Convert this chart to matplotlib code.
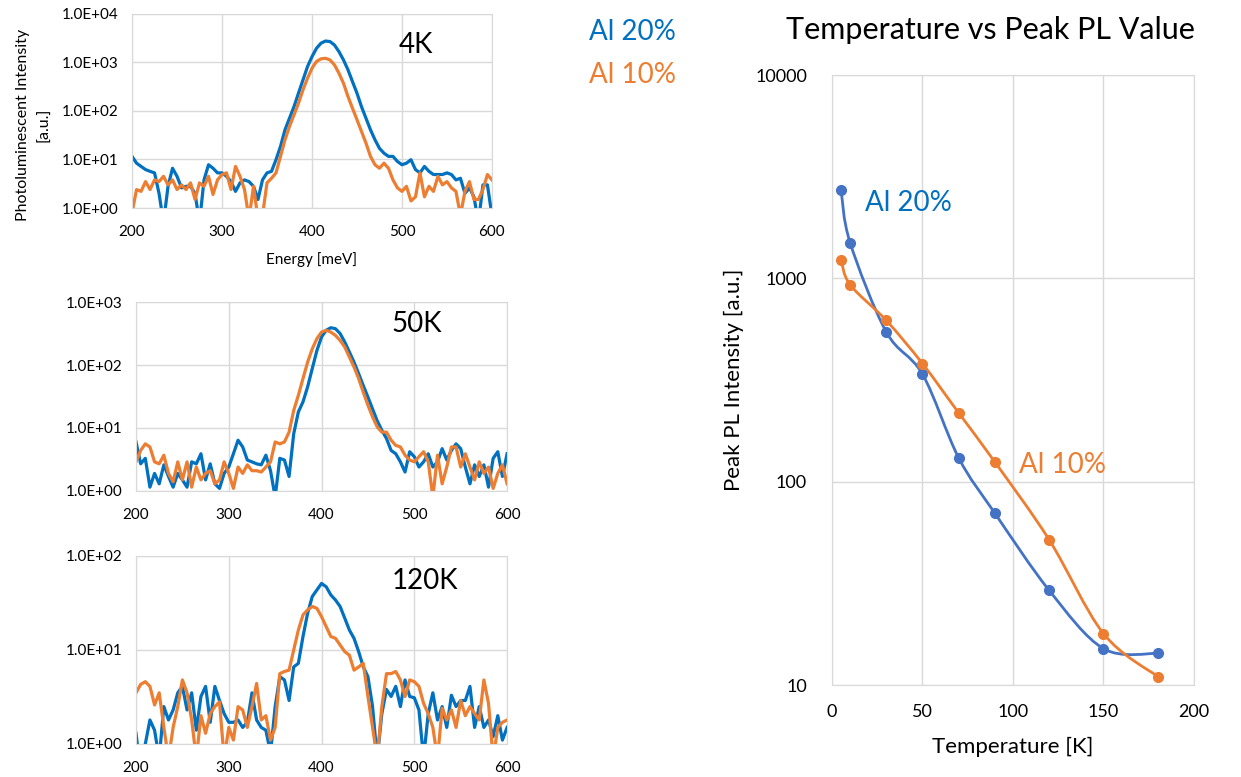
import numpy as np
import matplotlib
matplotlib.use("Agg")
import matplotlib.pyplot as plt
from matplotlib.path import Path
from matplotlib.patches import PathPatch
from matplotlib.ticker import FuncFormatter, NullLocator, FixedLocator

plt.rcParams['font.family'] = ['Lato', 'DejaVu Sans']

BLUE = '#0070C0'
ORANGE = '#ED7D31'
BLUE2 = '#4472C4'
GRID = '#D9D9D9'

# PL spectra, energy in meV (5 meV steps), intensity in a.u.
energy = np.arange(200, 605, 5)

b4 = [11.6, 8.4, 7.2, 6.2, 5.7, 5.3, 2.0, 0.5, 2.8, 6.6,
      4.5, 2.6, 2.8, 2.8, 2.0, 0.5, 3.8, 7.8, 6.6, 5.3,
      5.3, 4.5, 3.5, 2.2, 3.3, 3.8, 3.5, 2.8, 1.5, 3.8,
      5.3, 5.7, 9.9, 18.6, 41, 71, 123, 233, 438, 820,
      1318, 1960, 2500, 2770, 2700, 2290, 1670, 1130, 707, 404,
      233, 123, 71, 41, 25.5, 17, 13.5, 11.6, 11.6, 9.1,
      7.8, 8.4, 9.9, 6.2, 5.3, 7.2, 5.7, 4.9, 4.9, 4.9,
      5.3, 4.9, 3.8, 4.1, 2.0, 2.6, 1.7, 0.5, 3.0, 3.0,
      0.7]
o4 = [0.8, 2.4, 2.2, 3.5, 2.4, 3.8, 3.5, 4.5, 3.0, 3.8,
      2.4, 3.0, 2.4, 3.3, 1.5, 3.3, 2.8, 4.5, 1.9, 3.8,
      4.9, 5.3, 2.4, 7.2, 4.5, 2.4, 0.6, 2.8, 0.6, 0.7,
      3.3, 4.1, 5.3, 11.6, 25.5, 48, 83, 145, 273, 472,
      760, 1050, 1190, 1220, 1130, 890, 600, 373, 199, 114,
      66, 38, 21.8, 11.6, 7.8, 6.6, 8.4, 6.6, 3.8, 2.6,
      2.2, 2.8, 1.4, 1.7, 5.3, 1.7, 2.8, 2.2, 4.5, 3.0,
      3.5, 2.6, 2.2, 0.7, 2.2, 3.5, 1.5, 1.5, 2.4, 4.9,
      3.8]
b50 = [6.0, 2.7, 3.3, 1.15, 1.9, 1.3, 2.6, 1.7, 1.15, 1.9,
       1.5, 1.15, 2.9, 2.7, 3.9, 1.5, 2.7, 1.3, 1.1, 1.9,
       2.4, 3.9, 6.4, 5.0, 3.1, 2.9, 2.7, 2.6, 3.7, 2.1,
       0.8, 3.3, 3.1, 1.7, 8.1, 18, 26, 45, 88, 170,
       279, 356, 391, 377, 316, 232, 161, 111, 73, 47,
       31, 20, 13, 9.2, 6.8, 4.4, 3.9, 2.9, 2.0, 4.2,
       3.5, 2.4, 2.9, 3.9, 2.4, 2.9, 4.7, 3.1, 4.4, 5.6,
       4.7, 2.4, 1.3, 2.6, 1.7, 2.6, 1.15, 3.3, 4.2, 1.7,
       3.9]
o50 = [2.9, 4.4, 5.6, 5.0, 2.9, 2.7, 3.7, 1.9, 1.4, 2.9,
       1.5, 2.9, 1.15, 2.4, 1.5, 1.9, 2.1, 1.3, 1.5, 2.9,
       1.9, 1.1, 2.4, 1.9, 2.6, 2.1, 2.1, 2.0, 2.4, 2.9,
       6.0, 5.6, 6.0, 8.6, 19, 33, 61, 111, 181, 262,
       333, 356, 333, 295, 246, 193, 134, 93, 61, 37,
       23, 15, 10.4, 8.6, 8.6, 6.4, 5.3, 5.0, 3.7, 3.1,
       2.9, 3.5, 4.2, 2.9, 0.8, 3.7, 1.3, 2.4, 5.0, 5.0,
       2.4, 3.9, 2.4, 1.5, 2.9, 1.9, 2.4, 1.1, 1.9, 2.6,
       1.3]
b120 = [1.3, 0.5, 1.0, 1.8, 1.4, 0.7, 2.5, 1.8, 2.3, 3.5,
        4.1, 2.3, 3.5, 1.4, 3.2, 4.1, 1.7, 4.1, 2.9, 2.1,
        1.7, 1.7, 1.8, 1.5, 1.7, 3.5, 1.8, 1.5, 1.4, 0.8,
        2.5, 5.2, 4.8, 2.9, 6.6, 7.2, 13.9, 24.6, 37, 43.5,
        51, 47, 38.5, 34, 29, 21.8, 16.3, 13.3, 9.6, 6.6,
        5.2, 2.5, 0.7, 2.1, 3.8, 3.2, 4.1, 2.5, 4.8, 3.2,
        3.1, 2.3, 0.7, 2.1, 3.5, 1.8, 2.5, 1.5, 3.3, 2.5,
        2.9, 2.9, 4.1, 1.5, 2.5, 1.5, 1.8, 1.2, 2.0, 1.1,
        1.5]
o120 = [3.5, 4.3, 4.6, 4.1, 2.6, 3.5, 1.5, 0.7, 1.5, 2.5,
        4.8, 3.5, 1.8, 0.7, 2.0, 1.3, 2.1, 2.5, 2.8, 0.7,
        1.5, 1.1, 2.5, 2.3, 1.5, 2.5, 4.4, 1.8, 2.0, 1.1,
        1.5, 5.6, 5.9, 6.1, 10, 16.3, 23.6, 26.7, 29, 27.7,
        22.6, 17.7, 13.9, 13.3, 11.3, 9.6, 8.8, 6.1, 6.6, 7.2,
        3.2, 1.5, 0.7, 2.5, 5.6, 5.6, 5.9, 4.8, 3.2, 4.8,
        4.6, 4.1, 2.7, 2.1, 1.5, 0.7, 2.4, 1.8, 2.3, 1.5,
        2.9, 2.0, 2.5, 2.1, 1.8, 4.8, 2.7, 0.7, 1.5, 1.7,
        1.8]

# peak PL vs temperature
temps = [5, 10, 30, 50, 70, 90, 120, 150, 180]
peak_al20 = [2735, 1500, 545, 338, 131, 70, 29.2, 15.1, 14.3]
peak_al10 = [1236, 931, 621, 381, 218, 125, 51.8, 17.9, 11.0]

fig = plt.figure(figsize=(12.41, 7.77), dpi=100)

sci = FuncFormatter(lambda v, p: f"{v:.1E}")


def style_spectrum(ax, top):
    ax.set_xlim(200, 600)
    ax.set_yscale('log')
    ax.set_ylim(1, top)
    ax.yaxis.set_minor_locator(NullLocator())
    ax.yaxis.set_major_formatter(sci)
    ax.set_xticks([200, 300, 400, 500, 600])
    ax.grid(True, color=GRID, lw=1)
    ax.set_axisbelow(True)
    for s in ax.spines.values():
        s.set_color(GRID)
    ax.tick_params(length=0, labelsize=11)
    ax.tick_params(axis='x', pad=12)
    ax.tick_params(axis='y', pad=10)


panels = [
    ([0.1064, 0.7323, 0.290, 0.2497], b4, o4, 1e4, '4K', (0.79, 0.84)),
    ([0.1096, 0.3681, 0.299, 0.2432], b50, o50, 1e3, '50K', (0.757, 0.884)),
    ([0.1096, 0.0425, 0.299, 0.2420], b120, o120, 1e2, '120K', (0.779, 0.867)),
]
for i, (rect, bl, ol, top, lab, pos) in enumerate(panels):
    ax = fig.add_axes(rect)
    ax.plot(energy, bl, color=BLUE, lw=2.3, solid_joinstyle='round')
    ax.plot(energy, ol, color=ORANGE, lw=2.3, solid_joinstyle='round')
    style_spectrum(ax, top)
    ax.text(pos[0], pos[1], lab, transform=ax.transAxes, fontsize=20,
            ha='center', va='center')
    if i == 0:
        ax.set_xlabel('Energy [meV]', fontsize=11, labelpad=10)
        ax.set_ylabel('Photoluminescent Intensity\n[a.u.]', fontsize=11.5,
                      linespacing=1.6)
        ax.yaxis.set_label_coords(-0.225, 0.43)

# legend text
fig.text(0.510, 0.959, 'Al 20%', color=BLUE, fontsize=20, ha='center', va='center')
fig.text(0.510, 0.903, 'Al 10%', color=ORANGE, fontsize=20, ha='center', va='center')


def smooth_line(ax, x, y, color):
    # Excel-like smoothed line: cubic Bezier segments in (x, log y) space
    lx = np.asarray(x, float)
    ly = np.log10(np.asarray(y, float))
    n = len(lx)
    verts = [(lx[0], ly[0])]
    codes = [Path.MOVETO]
    for i in range(n - 1):
        a = max(i - 1, 0)
        d = min(i + 2, n - 1)
        c1 = (lx[i] + (lx[i + 1] - lx[a]) / 6, ly[i] + (ly[i + 1] - ly[a]) / 6)
        c2 = (lx[i + 1] - (lx[d] - lx[i]) / 6, ly[i + 1] - (ly[d] - ly[i]) / 6)
        verts += [c1, c2, (lx[i + 1], ly[i + 1])]
        codes += [Path.CURVE4] * 3
    verts = np.array(verts)
    verts[:, 1] = 10 ** verts[:, 1]
    ax.add_patch(PathPatch(Path(verts, codes), fill=False, edgecolor=color,
                           lw=2.0, zorder=3))
    ax.plot(x, y, 'o', color=color, ms=7, zorder=4)


axr = fig.add_axes([0.6704, 0.1184, 0.2917, 0.785])
axr.set_yscale('log')
smooth_line(axr, temps, peak_al20, BLUE2)
smooth_line(axr, temps, peak_al10, ORANGE)
axr.set_xlim(0, 200)
axr.set_ylim(10, 10000)
axr.set_xticks([0, 50, 100, 150, 200])
axr.yaxis.set_major_locator(FixedLocator([10, 100, 1000, 10000]))
axr.yaxis.set_minor_locator(NullLocator())
axr.yaxis.set_major_formatter(FuncFormatter(lambda v, p: f"{v:.0f}"))
axr.grid(True, color=GRID, lw=1)
axr.set_axisbelow(True)
for s in axr.spines.values():
    s.set_color(GRID)
axr.tick_params(length=0, labelsize=13)
axr.tick_params(axis='x', pad=14)
axr.tick_params(axis='y', pad=18)
axr.set_xlabel('Temperature [K]', fontsize=16, labelpad=12)
axr.set_ylabel('Peak PL Intensity [a.u.]', fontsize=16, labelpad=8)
axr.text(0.21, 0.79, 'Al 20%', transform=axr.transAxes, color=BLUE,
         fontsize=20, ha='center', va='center')
axr.text(0.638, 0.36, 'Al 10%', transform=axr.transAxes, color=ORANGE,
         fontsize=20, ha='center', va='center')
fig.text(0.798, 0.961, 'Temperature vs Peak PL Value', fontsize=22,
         ha='center', va='center')

fig.savefig('out.png', dpi=100)
